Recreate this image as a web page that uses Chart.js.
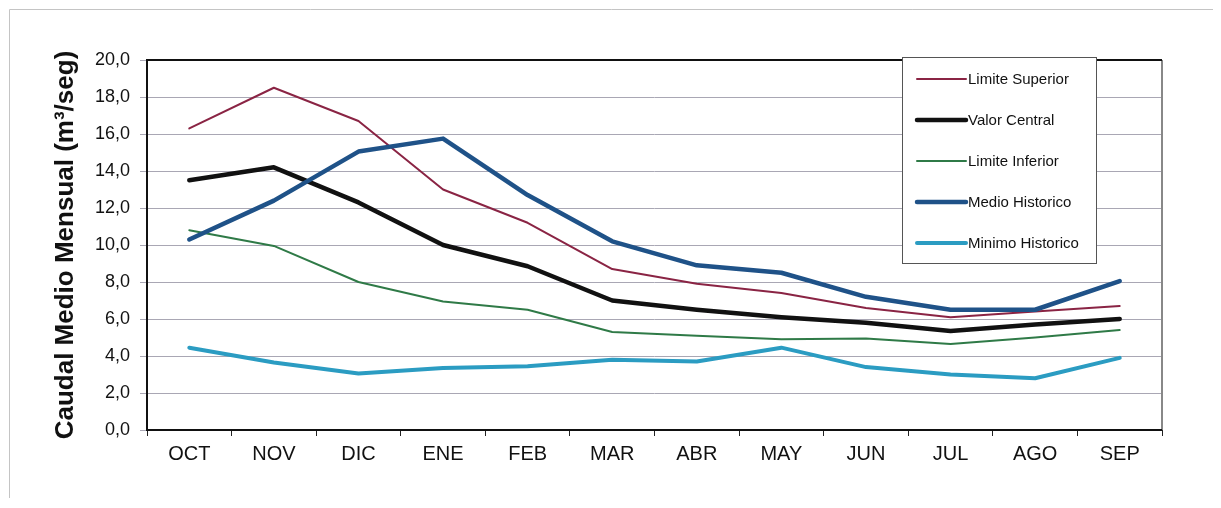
<!DOCTYPE html>
<html>
<head>
<meta charset="utf-8">
<script src="https://cdn.jsdelivr.net/npm/chart.js@4"></script>
<style>
  html, body { margin: 0; padding: 0; background: #fff; }
  #wrap { width: 1221px; height: 508px; position: relative; }
</style>
</head>
<body>
<div id="wrap"><canvas id="chartCaudal" width="1221" height="508"></canvas></div>
<script>
const meses = ['OCT','NOV','DIC','ENE','FEB','MAR','ABR','MAY','JUN','JUL','AGO','SEP'];

const limiteSuperior = [16.3, 18.5, 16.7, 13.0, 11.2, 8.7, 7.9, 7.4, 6.6, 6.1, 6.4, 6.7];
const valorCentral   = [13.5, 14.2, 12.3, 10.0, 8.85, 7.0, 6.5, 6.1, 5.8, 5.35, 5.7, 6.0];
const limiteInferior = [10.8, 9.95, 8.0, 6.95, 6.5, 5.3, 5.1, 4.9, 4.95, 4.65, 5.0, 5.4];
const medioHistorico = [10.3, 12.4, 15.05, 15.75, 12.7, 10.2, 8.9, 8.5, 7.2, 6.5, 6.5, 8.05];
const minimoHistorico = [4.45, 3.65, 3.05, 3.35, 3.45, 3.8, 3.7, 4.45, 3.4, 3.0, 2.8, 3.9];

const fuente = '"Liberation Sans", Arial, sans-serif';

// marco exterior y borde del area de grafico
const marcoPlugin = {
  id: 'marco',
  beforeDraw(chart) {
    const c = chart.ctx;
    c.save();
    c.strokeStyle = '#c4c4c4';
    c.lineWidth = 1;
    c.beginPath();
    c.moveTo(9.5, 498);
    c.lineTo(9.5, 9.5);
    c.lineTo(1213, 9.5);
    c.stroke();
    c.restore();
  },
  afterDatasetsDraw(chart) {
    const a = chart.chartArea;
    const c = chart.ctx;
    c.save();
    c.lineWidth = 2;
    c.strokeStyle = '#888';
    c.beginPath();
    c.moveTo(a.right, a.top);
    c.lineTo(a.right, a.bottom);
    c.stroke();
    c.strokeStyle = '#111';
    c.beginPath();
    c.moveTo(a.right, a.top);
    c.lineTo(a.left, a.top);
    c.lineTo(a.left, a.bottom);
    c.lineTo(a.right, a.bottom);
    c.stroke();
    c.restore();
  }
};

// leyenda dentro del grafico, arriba a la derecha
const leyendaPlugin = {
  id: 'leyenda',
  afterDraw(chart) {
    const c = chart.ctx;
    const x0 = 902, y0 = 57, w = 194, h = 206;
    c.save();
    c.fillStyle = '#fff';
    c.fillRect(x0, y0, w, h);
    c.strokeStyle = '#555';
    c.lineWidth = 1;
    c.strokeRect(x0 + 0.5, y0 + 0.5, w, h);
    c.font = '15px ' + fuente;
    c.textBaseline = 'middle';
    chart.data.datasets.forEach((ds, i) => {
      const y = y0 + 22 + i * 41;
      c.strokeStyle = ds.borderColor;
      c.lineWidth = ds.borderWidth;
      c.lineCap = 'round';
      c.beginPath();
      c.moveTo(917, y);
      c.lineTo(966, y);
      c.stroke();
      c.fillStyle = '#111';
      c.fillText(ds.label, 968, y + 1);
    });
    c.restore();
  }
};

const ctxCaudal = document.getElementById('chartCaudal');

new Chart(ctxCaudal, {
  type: 'line',
  data: {
    labels: meses,
    datasets: [
      { label: 'Limite Superior', data: limiteSuperior, borderColor: '#8a2444', borderWidth: 2, order: 5 },
      { label: 'Valor Central', data: valorCentral, borderColor: '#111111', borderWidth: 4.5, order: 4 },
      { label: 'Limite Inferior', data: limiteInferior, borderColor: '#2f7a47', borderWidth: 2, order: 3 },
      { label: 'Medio Historico', data: medioHistorico, borderColor: '#1f5288', borderWidth: 4.5, order: 2 },
      { label: 'Minimo Historico', data: minimoHistorico, borderColor: '#2b9cc2', borderWidth: 4, order: 1 }
    ]
  },
  options: {
    responsive: false,
    animation: false,
    devicePixelRatio: 1,
    layout: { padding: { left: 50, top: 60, right: 59, bottom: 30 } },
    elements: {
      line: { tension: 0, borderJoinStyle: 'round', borderCapStyle: 'round' },
      point: { radius: 0, hoverRadius: 0 }
    },
    plugins: {
      legend: { display: false },
      tooltip: { enabled: false }
    },
    scales: {
      x: {
        offset: true,
        afterFit(scale) { scale.height = 48; },
        grid: { offset: true, drawOnChartArea: false, tickLength: 6, color: '#222' },
        border: { display: false },
        ticks: { color: '#111', padding: 6, font: { family: fuente, size: 20 } }
      },
      y: {
        min: 0,
        max: 20,
        afterFit(scale) { scale.width = 97; },
        grid: { color: '#a9a7b4', lineWidth: 1, tickLength: 7 },
        border: { display: false },
        ticks: {
          stepSize: 2,
          padding: 10,
          color: '#111',
          font: { family: fuente, size: 18 },
          callback: v => v.toFixed(1).replace('.', ',')
        },
        title: {
          display: true,
          text: 'Caudal Medio Mensual (m³/seg)',
          color: '#111',
          padding: { top: 0, bottom: 0 },
          font: { family: fuente, size: 26, weight: 'bold' }
        }
      }
    }
  },
  plugins: [marcoPlugin, leyendaPlugin]
});
</script>
</body>
</html>
